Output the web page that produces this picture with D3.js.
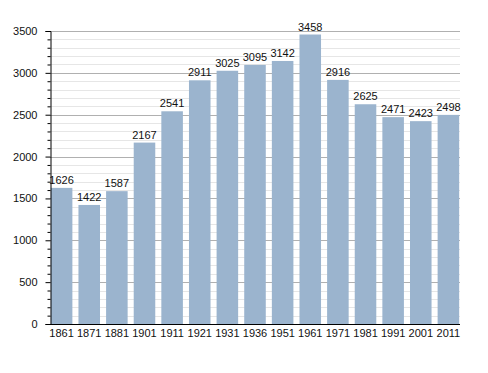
<!DOCTYPE html>
<html>
<head>
<meta charset="utf-8">
<script src="https://cdn.jsdelivr.net/npm/d3@7"></script>
<style>
  body { margin: 0; background: #fff; }
  text { font-family: "Liberation Sans", Arial, sans-serif; }
</style>
</head>
<body>
<div id="chart"></div>
<script>
// data
const years = ["1861", "1871", "1881", "1901", "1911", "1921", "1931", "1936", "1951", "1961", "1971", "1981", "1991", "2001", "2011"]
const population = [1626, 1422, 1587, 2167, 2541, 2911, 3025, 3095, 3142, 3458, 2916, 2625, 2471, 2423, 2498]
const majorTicks = [0, 500, 1000, 1500, 2000, 2500, 3000, 3500]

const width = 488
const height = 373
const plot = { left: 50, right: 460, top: 31, bottom: 324 }

const svg = d3.select("#chart").append("svg").attr("width", width).attr("height", height)

// scales
const x = d3.scaleBand().domain(years).range([plot.left, plot.right]).paddingInner(0.22).paddingOuter(0.03)
const y = d3.scaleLinear().domain([0, 3500]).range([plot.bottom, plot.top])

const minorTicks = d3.range(0, 3501, 100).filter(v => v % 500 !== 0)

// minor gridlines
svg.append("g").selectAll("line").data(minorTicks).enter().append("line")
    .attr("x1", plot.left).attr("x2", plot.right)
    .attr("y1", d => Math.round(y(d)) + 0.5).attr("y2", d => Math.round(y(d)) + 0.5)
    .attr("stroke", "#e6e6e6").attr("stroke-width", 1)

// major gridlines
svg.append("g").selectAll("line").data(majorTicks.filter(d => d > 0)).enter().append("line")
    .attr("x1", plot.left).attr("x2", plot.right)
    .attr("y1", d => Math.round(y(d)) + 0.5).attr("y2", d => Math.round(y(d)) + 0.5)
    .attr("stroke", "#b0b0b0").attr("stroke-width", 1)

// bars
svg.append("g").selectAll("rect").data(population).enter().append("rect")
    .attr("x", (d, i) => x(years[i]))
    .attr("width", x.bandwidth())
    .attr("y", d => y(d))
    .attr("height", d => plot.bottom - y(d))
    .attr("fill", "#9bb4ce")

// value labels
svg.append("g").selectAll("text").data(population).enter().append("text")
    .attr("x", (d, i) => x(years[i]) + x.bandwidth() / 2)
    .attr("y", d => y(d) - 4)
    .attr("text-anchor", "middle")
    .style("font-size", "11px")
    .attr("fill", "#111")
    .text(d => d)

// y axis
const yAxis = d3.axisLeft(y).tickValues(majorTicks).tickSize(5).tickPadding(8).tickFormat(d3.format("d"))
const yGroup = svg.append("g").attr("transform", `translate(${plot.left + 0.5},0)`).call(yAxis)
yGroup.select(".domain").attr("stroke", "#000")
yGroup.selectAll("text").style("font-size", "11px").attr("fill", "#111")
  .style("font-family", "'Liberation Sans', Arial, sans-serif")

const yMinor = d3.axisLeft(y).tickValues(minorTicks).tickSize(3).tickFormat("")
svg.append("g").attr("transform", `translate(${plot.left + 0.5},0)`).call(yMinor)
    .select(".domain").remove()

// x axis
const xAxis = d3.axisBottom(x).tickSize(0).tickPadding(5)
const xGroup = svg.append("g").attr("transform", `translate(0,${plot.bottom + 0.5})`).call(xAxis)
xGroup.select(".domain").attr("stroke", "#000").attr("d", `M${plot.left},0H${plot.right}`)
xGroup.selectAll("text").style("font-size", "11px").attr("fill", "#111")
  .style("font-family", "'Liberation Sans', Arial, sans-serif")
</script>
</body>
</html>
